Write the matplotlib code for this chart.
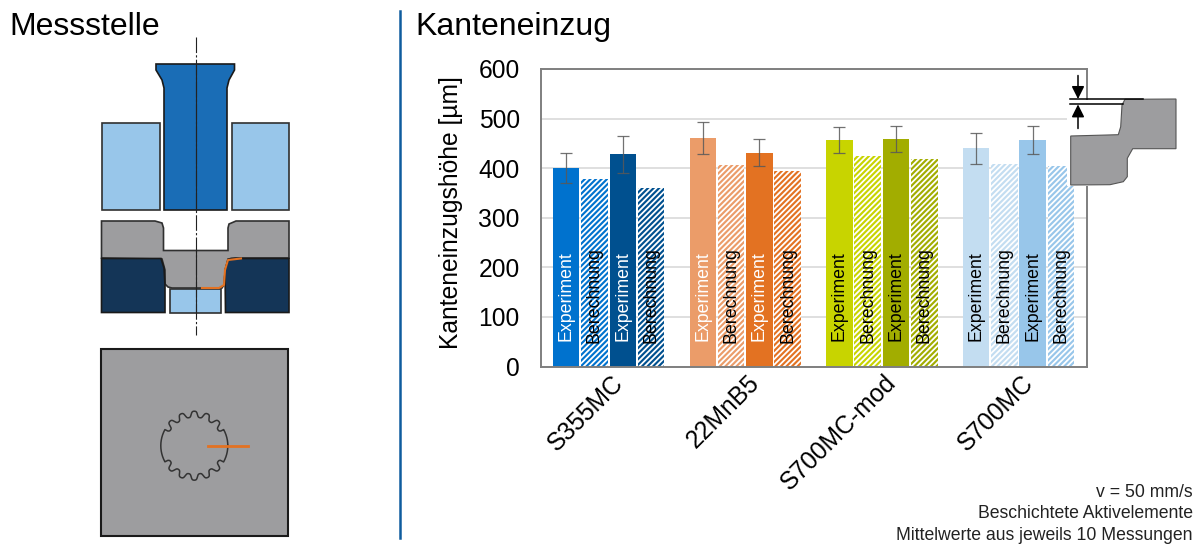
import numpy as np
import matplotlib
matplotlib.use("Agg")
import matplotlib.pyplot as plt
from matplotlib.patches import Polygon, Rectangle
from matplotlib.transforms import ScaledTranslation

plt.rcParams['font.family'] = ['Liberation Sans', 'DejaVu Sans']
plt.rcParams['hatch.linewidth'] = 1.3

# ---------- data ----------
materials = ['S355MC', '22MnB5', 'S700MC-mod', 'S700MC']
bar_labels = ['Experiment', 'Berechnung', 'Experiment', 'Berechnung']
heights = [
    [400, 378, 428, 360],
    [461, 407, 431, 394],
    [457, 424, 459, 418],
    [440, 409, 457, 404],
]
errors = [
    [30, 0, 37, 0],
    [32, 0, 27, 0],
    [27, 0, 27, 0],
    [31, 0, 29, 0],
]
colors = [
    ['#0072CE', '#0072CE', '#00508F', '#00508F'],
    ['#EB9C69', '#EB9C69', '#E37222', '#E37222'],
    ['#C8D400', '#C8D400', '#A2AD00', '#A2AD00'],
    ['#C3DDF1', '#C3DDF1', '#98C6EA', '#98C6EA'],
]
exp_text = ['white', 'white', 'black', 'black']
y_ticks = [0, 100, 200, 300, 400, 500, 600]
notes = ['v = 50 mm/s', 'Beschichtete Aktivelemente', 'Mittelwerte aus jeweils 10 Messungen']

W, H = 1203, 545
fig = plt.figure(figsize=(W / 100, H / 100), dpi=100)

# ---------- bar chart ----------
L, R, T, B = 540.7, 1087.3, 69, 366.5
ax = fig.add_axes([L / W, 1 - B / H, (R - L) / W, (B - T) / H])
BW = 26.5 / 136.5
SP = 28.3 / 136.5
for g, mat in enumerate(materials):
    for i in range(4):
        x = g + (i - 1.5) * SP - 0.003
        h = heights[g][i]
        c = colors[g][i]
        if i % 2 == 0:
            ax.bar(x, h, BW, color=c, zorder=2)
            ax.errorbar(x, h, yerr=errors[g][i], color='#595959', elinewidth=0.9,
                        capsize=4, capthick=0.9, alpha=0.85, zorder=3)
            tc = exp_text[g]
            y_text = 52
        else:
            ax.bar(x, h, BW, facecolor=c, edgecolor='white', hatch='//////', linewidth=0, zorder=2)
            tc = 'black'
            y_text = 48
        ax.text(x, y_text, bar_labels[i], rotation=90, ha='center', va='bottom',
                fontsize=12.8, color=tc, zorder=4)
ax.set_xlim(-0.5, 3.5)
ax.set_ylim(0, 600)
ax.set_yticks(y_ticks)
ax.set_xticks(range(4))
ax.set_xticklabels(materials, rotation=45, ha='right', rotation_mode='anchor', fontsize=17.7)
ax.tick_params(axis='both', length=0, labelsize=17.7)
ax.tick_params(axis='y', pad=15)
ax.tick_params(axis='x', pad=3)
shift = ScaledTranslation(2 / 100, 0, fig.dpi_scale_trans)
for lab in ax.get_xticklabels():
    lab.set_transform(lab.get_transform() + shift)
ax.set_ylabel('Kanteneinzugshöhe [µm]', fontsize=17.7, labelpad=11)
ax.yaxis.label.set_y((B - 213) / (B - T))
ax.yaxis.grid(True, color='#D9D9D9', linewidth=1.2, zorder=0)
ax.set_axisbelow(True)
for s in ax.spines.values():
    s.set_color('#7F7F7F')
    s.set_linewidth(1.4)

# ---------- overlay in pixel coordinates ----------
ov = fig.add_axes([0, 0, 1, 1], zorder=5)
ov.set_xlim(0, W)
ov.set_ylim(H, 0)
ov.axis('off')
ov.patch.set_alpha(0)

EDGE = '#1a1a1a'
GRAY = '#9D9D9F'
def poly(pts, fc, ec=EDGE, lw=1.2, z=2):
    ov.add_patch(Polygon(pts, closed=True, facecolor=fc, edgecolor=ec, linewidth=lw, zorder=z))

# tool drawing
punch = [(156, 64), (234.5, 64), (234.5, 70), (229, 80), (227, 88), (227, 210),
         (164, 210), (164, 88), (162, 80), (156, 70)]
poly(punch, '#1A6DB6')
for x0, x1 in [(101.5, 159.5), (231.5, 289)]:
    poly([(x0, 123), (x1, 123), (x1, 210), (x0, 210)], '#98C6EA', ec='#303030')
sheet = [(101.5, 221), (155, 221), (162, 223), (163.5, 228), (163.5, 250.5), (228, 250.5),
         (228, 228), (229, 224), (236, 221), (289, 221), (289, 258), (235, 258), (228, 259),
         (226, 267), (224.5, 277), (224, 285), (222, 288), (172, 288), (168, 287), (165, 284),
         (165, 270), (162, 259), (101.5, 258)]
poly(sheet, GRAY, ec='#303030')
poly([(101.5, 258.5), (161, 258.5), (164, 268), (165, 285), (165, 312.5), (101.5, 312.5)], '#143557')
poly([(289, 258.5), (231, 258.5), (228, 260), (225, 270), (225.5, 312.5), (289, 312.5)], '#143557')
poly([(169.5, 288.5), (220.5, 288.5), (220.5, 312.5), (169.5, 312.5)], '#98C6EA', ec='#303030')
ov.plot([202, 219, 224, 225, 228, 241], [288, 288, 285, 270, 260, 258.5],
        color='#E37222', lw=1.5, zorder=3)
ov.plot([195.5, 195.5], [37, 335], color='#222222', lw=0.8, ls=(0, (14, 2, 2, 2)), zorder=4)
for y0, y1 in [(64, 210), (250.5, 312.5)]:
    ov.plot([195.5, 195.5], [y0, y1], color='#222222', lw=0.8, zorder=4)

# top view
poly([(101, 349), (288, 349), (288, 536), (101, 536)], GRAY, ec='#1a1a1a', lw=1.5)
cx, cy = 194.3, 445.7
th = np.radians(np.arange(0, 360.5, 0.25))
ang = np.abs(((th + np.pi / 2) % np.pi) - np.pi / 2)   # angle from the horizontal
wave = np.tanh(1.6 * np.cos(16 * (th - np.pi / 2))) / np.tanh(1.6)
r = np.where(ang < np.radians(29), 33.5, 31.5 + 3.0 * wave)
ov.plot(cx + r * np.cos(th), cy - r * np.sin(th), color='#333333', lw=1.1, zorder=3)
ov.plot([208, 248], [cy, cy], color='#E37222', lw=2, zorder=4)

# edge detail
ov.add_patch(Rectangle((1067, 100), 110, 86, facecolor='white', edgecolor='none', zorder=1))
detail = [(1070.7, 136), (1118.3, 134.7), (1120.7, 126.7), (1122, 105), (1125, 99.3), (1176, 99),
          (1176, 148.7), (1132.7, 148.7), (1127.3, 158.3), (1127.3, 176.7), (1123.3, 181.7),
          (1110, 184.7), (1070.7, 185)]
poly(detail, GRAY, ec='#555555', lw=0.8)
ov.plot([1070, 1142.7], [99, 99], color='black', lw=1.1, zorder=3)
ov.plot([1070, 1123], [104.4, 104.4], color='black', lw=1.1, zorder=3)
ov.annotate('', xy=(1078, 99), xytext=(1078, 75.5),
            arrowprops=dict(arrowstyle='-|>', color='black', lw=1.1, mutation_scale=19, shrinkA=0, shrinkB=0))
ov.annotate('', xy=(1078, 104.4), xytext=(1078, 128.5),
            arrowprops=dict(arrowstyle='-|>', color='black', lw=1.1, mutation_scale=19, shrinkA=0, shrinkB=0))

# texts and separator
ov.plot([400, 400], [11, 538], color='#0F5C9E', lw=1.8)
ov.text(9, 27, 'Messstelle', fontsize=23, va='center', ha='left')
ov.text(415, 27, 'Kanteneinzug', fontsize=23, va='center', ha='left')
for yy, t in zip([492.5, 514, 536], notes):
    ov.text(1193, yy, t, fontsize=12.7, va='center', ha='right', color='#222222')

fig.savefig('out.png', dpi=100)
